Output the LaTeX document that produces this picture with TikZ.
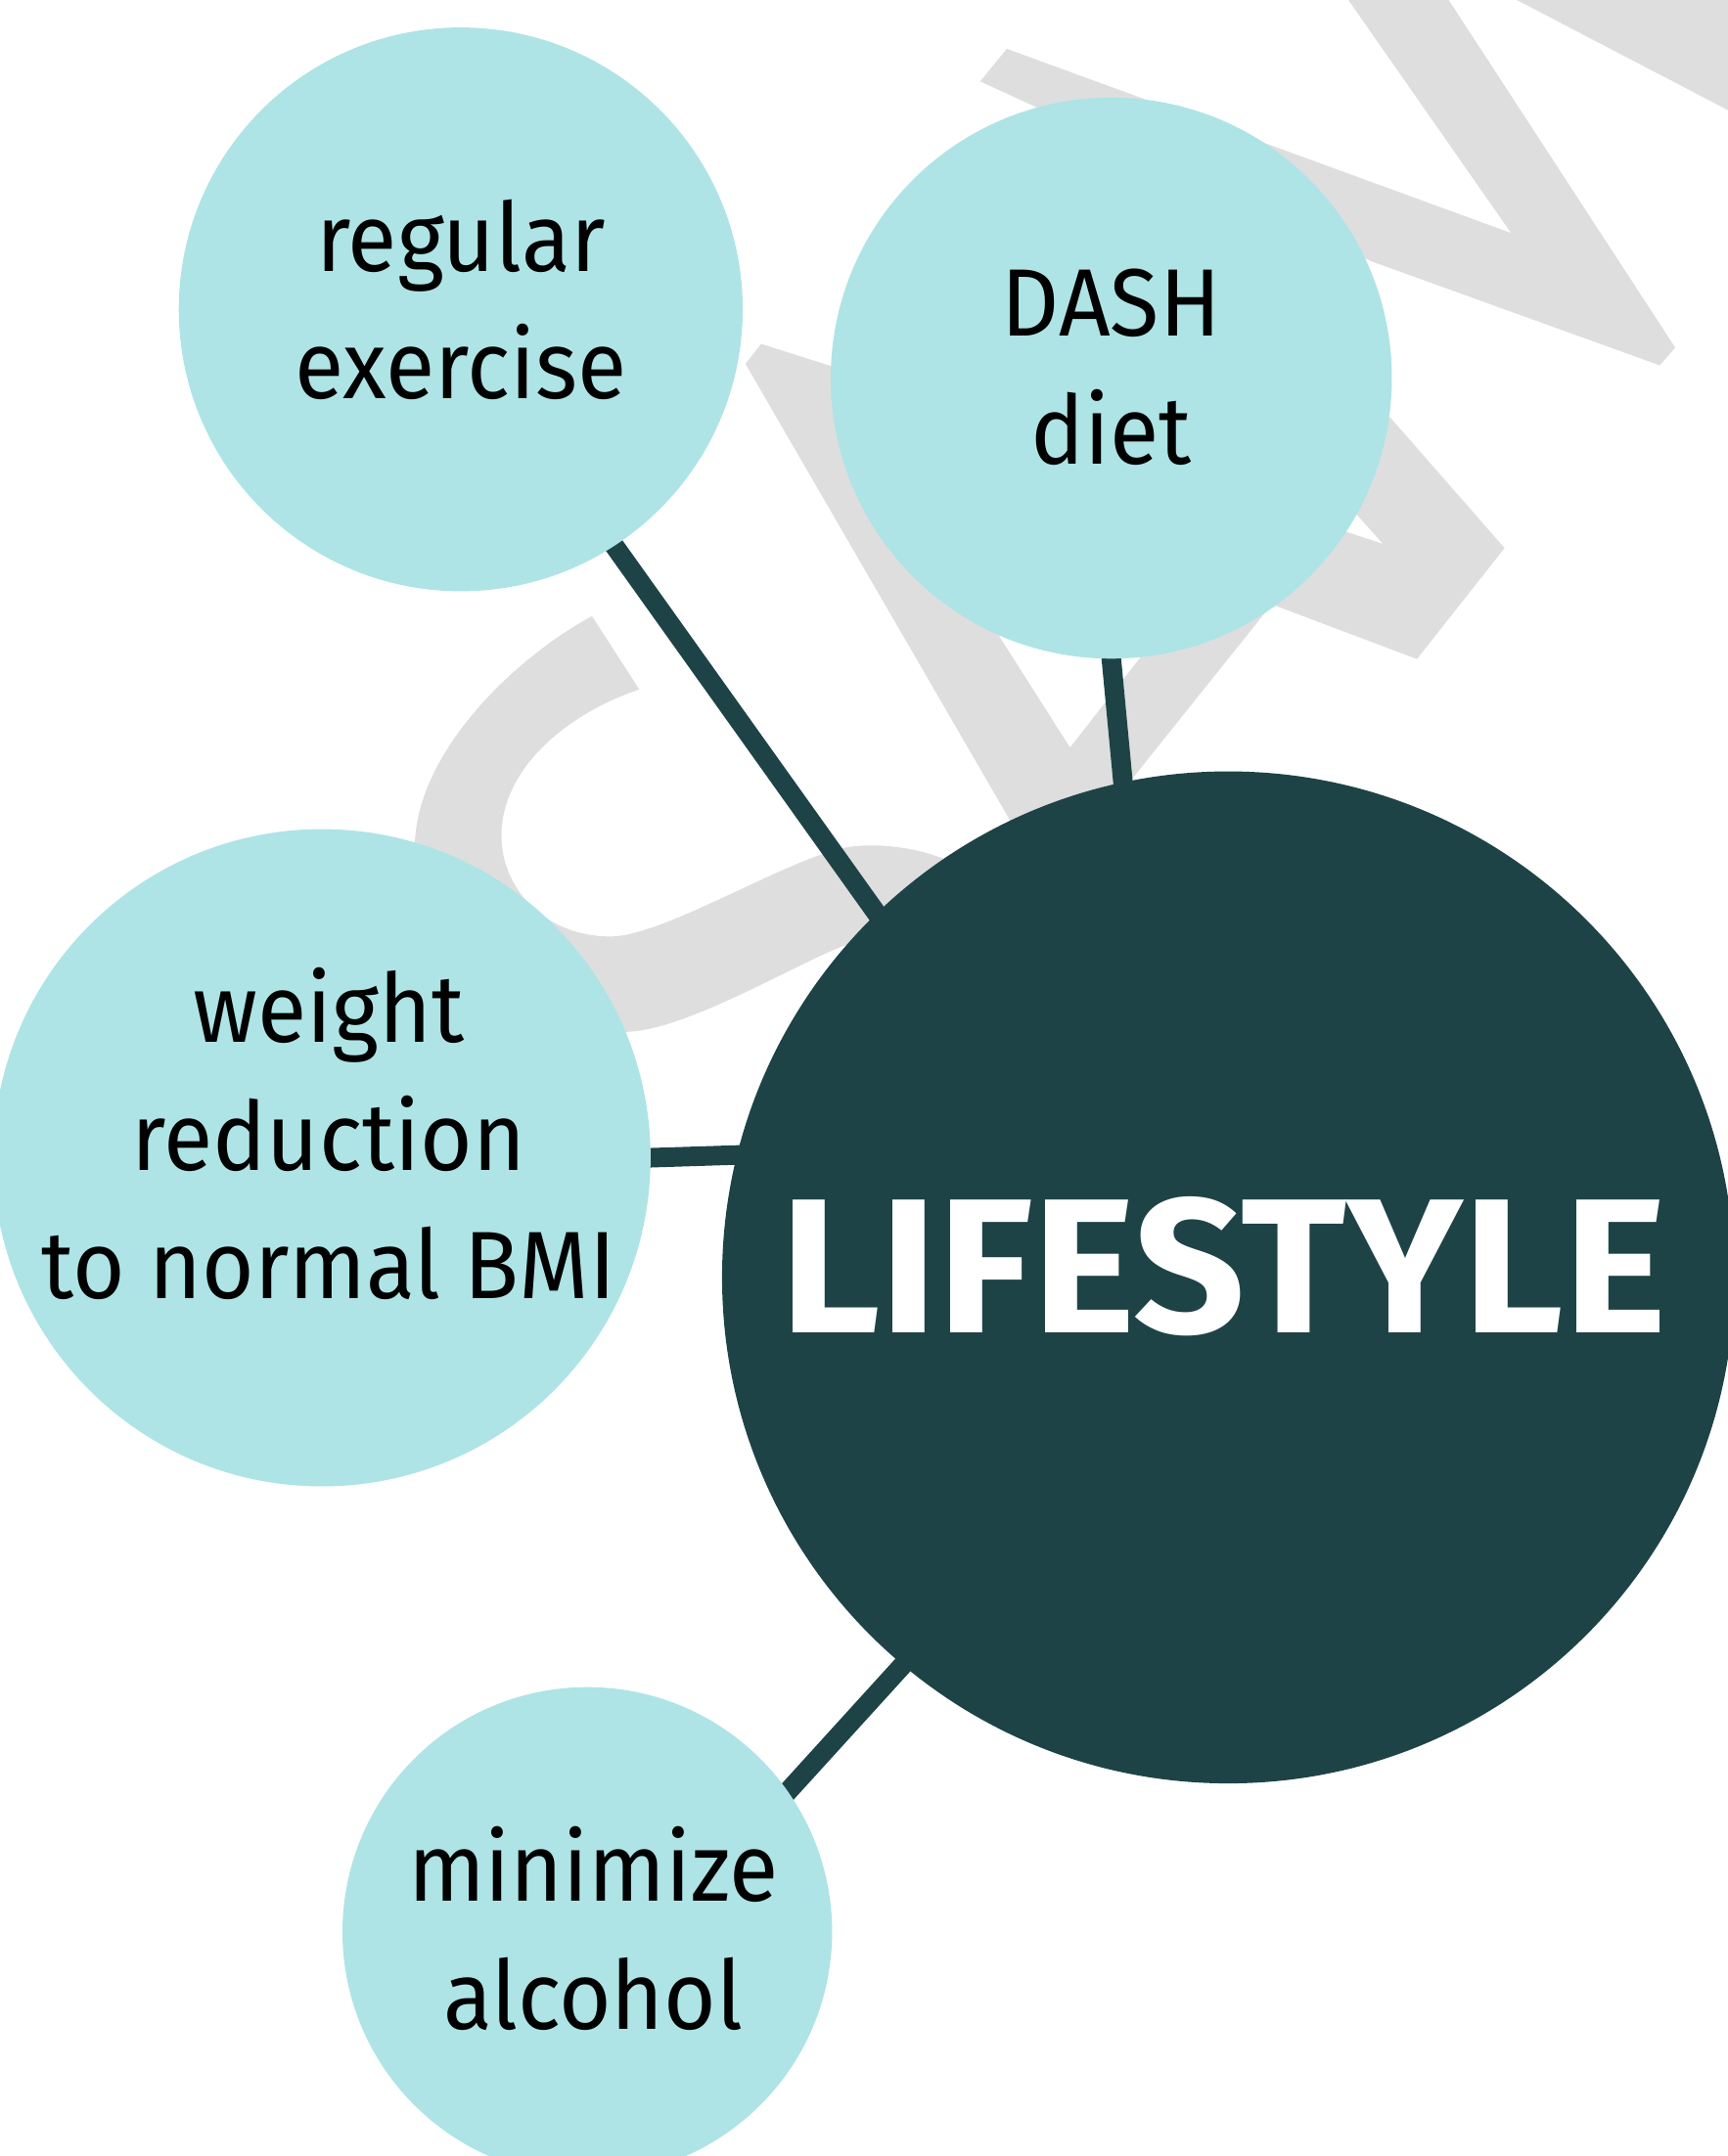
\documentclass[tikz,border=0pt]{standalone}
\usepackage{fontspec}
\setmainfont{Fira Sans}[FakeStretch=0.94]
\newfontfamily\hubfont{Fira Sans}[FakeStretch=1.02]
\definecolor{bubblefill}{RGB}{174,228,229}
\definecolor{hubfill}{RGB}{30,67,70}
\definecolor{wmgray}{RGB}{222,222,222}
\pgfdeclarelayer{wm}
\pgfdeclarelayer{links}
\pgfsetlayers{wm,links,main}
\begin{document}
\begin{tikzpicture}[x=0.5pt,y=-0.5pt,
  bubble/.style={circle, fill=bubblefill, inner sep=0pt, outer sep=0pt},
  hub/.style={circle, fill=hubfill, inner sep=0pt, outer sep=0pt},
  lbl/.style={align=center, inner sep=0pt, text=black, font=\fontsize{34.8pt}{46.5pt}\selectfont},
  hublbl/.style={inner sep=0pt, text=white, font=\hubfont\bfseries\fontsize{69.7pt}{80pt}\selectfont},
  link/.style={draw=hubfill, line width=7.1pt, shorten <=-4pt, shorten >=-4pt},
  wmark/.style={fill=wmgray}]
\useasboundingbox (0,0) rectangle (1256,1568);

% watermark
\begin{pgfonlayer}{wm}
\fill[wmark] (979,-2) -- (1098.7,169.5) -- (732,35.5) -- (712.7,59.2) -- (997,190) -- (1206.8,265.7) -- (1218,252.8) -- (1052,-2) -- cycle;
\fill[wmark] (1099,-2) -- (1260,82) -- (1260,-2) -- cycle;
\fill[wmark] (542,264.6) -- (734.7,597.2) -- (790,608) -- (822.5,567.2) -- (920.5,444.7) -- (927.4,440.5) -- (1030.2,479.3) -- (1093.9,398.6) -- (1010.7,303.5) -- (808,275) -- (604.8,266.4) -- (553.4,250.1) -- cycle;
\fill[white] (726.5,462.5) -- (778,543.5) -- (830.7,476) -- (808,400) -- cycle;
\fill[white] (979.2,386.8) -- (1005.1,395.3) -- (986.6,374.5) -- (960,360) -- cycle;
\fill[wmark] (430.4,448.1) .. controls (375,478) and (305,545) .. (301.7,611.7)
  .. controls (301,680) and (360,752) .. (455.9,750.4)
  .. controls (500,749) and (580,700) .. (614.5,687.5)
  -- (660,668) -- (700,632) -- (686.3,624.7)
  .. controls (660,614) and (625,612) .. (605.5,618.8)
  .. controls (560,632) and (480,681) .. (443.9,681.1)
  .. controls (395,681) and (364,645) .. (364.6,606.9)
  .. controls (365,560) and (410,520) .. (464.8,501.4)
  -- cycle;
\end{pgfonlayer}

% circles
\node[bubble, minimum size=205pt] (ex) at (335,225) {};
\node[bubble, minimum size=204pt] (dash) at (808,275) {};
\node[bubble, minimum size=239pt] (weight) at (234,842) {};
\node[hub, minimum size=368pt] (life) at (893,929) {};
\node[bubble, minimum size=178pt] (alc) at (427,1405) {};

% labels
\node[lbl] (exT) at (335,218) {regular\\exercise};
\node[lbl] (dashT) at (808,267) {DASH\\diet};
\node[lbl] (weightT) at (239,824.5) {weight\\reduction\\to normal BMI};
\node[lbl] (alcT) at (431.5,1402.5) {minimize\\alcohol};
\node[hublbl] (lifeT) at (889.5,921) {LIFESTYLE};

% connectors
\begin{pgfonlayer}{links}
\draw[link] (ex.-57.8) -- (life.134.4);
\draw[link] (dash.-90) -- (life.102.1);
\draw[link] (weight.0) -- (life.166.3);
\draw[link] (alc.35.5) -- (life.230.2);
\end{pgfonlayer}
\end{tikzpicture}
\end{document}
